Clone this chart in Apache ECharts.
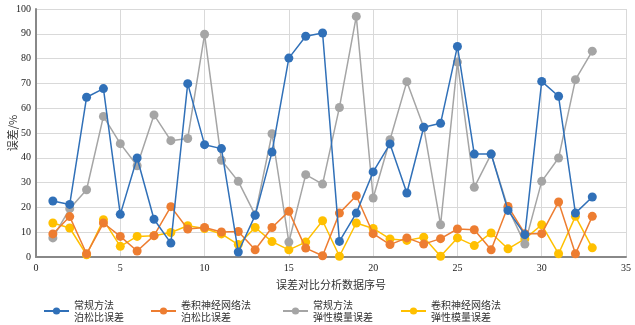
<!DOCTYPE html>
<html><head><meta charset="utf-8">
<script src="https://cdn.jsdelivr.net/npm/echarts@6/dist/echarts.min.js"></script>
<style>html,body{margin:0;padding:0;background:#fff}#c{width:635px;height:325px}</style>
</head><body><div id="c"></div>
<script>
const xIndex = [1,2,3,4,5,6,7,8,9,10,11,12,13,14,15,16,17,18,19,20,21,22,23,24,25,26,27,28,29,30,31,32,33];
const convPoisson = [22.6,21.2,64.4,67.9,17.2,39.9,15.2,5.6,69.9,45.3,43.7,2.0,16.8,42.3,80.2,89,90.3,6.3,17.7,34.3,45.6,25.8,52.3,53.9,84.9,41.5,41.5,18.8,9,70.8,64.8,17.7,24.2];
const cnnPoisson = [9.3,16.3,1.3,13.7,8.3,2.4,8.6,20.3,11.3,11.9,10.1,10.3,2.9,11.9,18.4,3.6,0.5,17.7,24.7,9.4,5,7.7,5.2,7.4,11.3,11,2.9,20.4,9.4,9.4,22.2,1.3,16.4];
const convModulus = [7.7,19.5,27.1,56.7,45.7,36.8,57.3,46.9,47.8,89.8,39,30.5,17,49.7,6,33.2,29.4,60.3,97,23.8,47.3,70.7,52.3,13,78.6,28.1,41.5,19.8,5.2,30.5,39.9,71.5,83];
const cnnModulus = [13.7,11.7,0.9,15,4.3,8.3,8.6,9.9,12.6,11.5,9.3,5,11.9,6.2,2.9,6,14.6,0.3,13.7,11.5,7.3,6.7,8,0.3,7.7,4.6,9.7,3.3,7.3,13,1.3,16.4,3.7];
const seriesNames = ['常规方法\n泊松比误差','卷积神经网络法\n泊松比误差','常规方法\n弹性模量误差','卷积神经网络法\n弹性模量误差'];
const seriesData = [convPoisson, cnnPoisson, convModulus, cnnModulus];
const colors = ['#3070B8','#ED7D31','#A5A5A5','#FFC000'];
const legendLeft = [38, 145, 277, 395];

const chart = echarts.init(document.getElementById('c'));
const series = seriesData.map((d, i) => ({
  name: seriesNames[i], type: 'line',
  data: d.map((v, j) => [xIndex[j], v]),
  symbol: 'circle', symbolSize: 9,
  lineStyle: {width: 1.5, color: colors[i]},
  itemStyle: {color: colors[i]},
  z: 10 - i
}));
const legends = seriesNames.map((n, i) => ({
  data: [n], left: legendLeft[i], top: 294,
  itemWidth: 25, itemHeight: 9, itemGap: 5,
  textStyle: {fontSize: 10, lineHeight: 12, color: '#333', fontFamily: 'Noto Sans CJK SC'}
}));
chart.setOption({
  animation: false,
  color: colors,
  grid: {left: 36, right: 9, top: 9, bottom: 68, containLabel: false, outerBoundsMode: 'none'},
  legend: legends,
  xAxis: {
    type: 'value', min: 0, max: 35, interval: 5,
    name: '误差对比分析数据序号', nameLocation: 'middle', nameGap: 22, nameMoveOverlap: false,
    nameTextStyle: {fontSize: 11, color: '#333', fontFamily: 'Noto Sans CJK SC'},
    axisLine: {show: true, lineStyle: {color: '#888', width: 2}},
    axisTick: {show: false},
    axisLabel: {fontSize: 10, color: '#222', fontFamily: 'Liberation Serif', margin: 6},
    splitLine: {show: true, lineStyle: {color: '#d9d9d9'}}
  },
  yAxis: {
    type: 'value', min: 0, max: 100, interval: 10,
    name: '误差/%', nameLocation: 'middle', nameGap: 18, nameMoveOverlap: false,
    nameTextStyle: {fontSize: 11, color: '#333', fontFamily: 'Noto Sans CJK SC'},
    axisLine: {show: true, lineStyle: {color: '#888', width: 2}},
    axisTick: {show: false},
    axisLabel: {fontSize: 10, color: '#222', fontFamily: 'Liberation Serif', margin: 5},
    splitLine: {show: true, lineStyle: {color: '#d9d9d9'}}
  },
  series: series
});
</script></body></html>
